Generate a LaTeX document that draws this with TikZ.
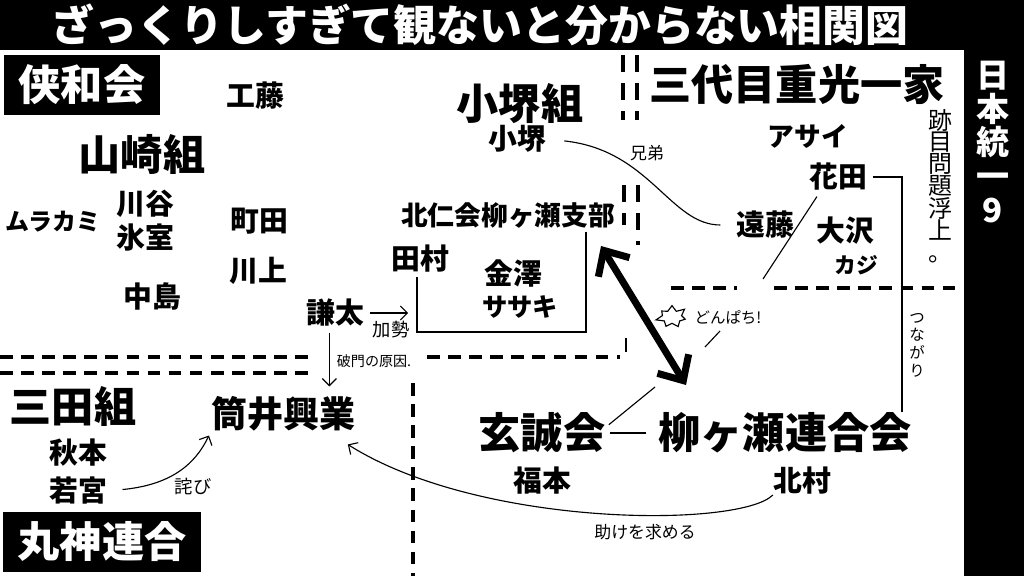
\documentclass[tikz,border=0pt]{standalone}
\usepackage{fontspec}
\setmainfont{Noto Sans CJK JP}
\usepackage{tikz}
\usetikzlibrary{arrows.meta}
\usetikzlibrary{shapes.symbols}
\tikzstyle{arrow}= [line width=0.8pt, ->, >={Straight Barb[length=5pt,width=10pt]}]
\tikzstyle{bsarrow}= [line width=5pt, <->, >={Straight Barb[length=14pt,width=26pt]}]
\tikzstyle{tie}= [line width=0.8pt]
\tikzstyle{border}= [line width=2.8pt, dash pattern=on 9pt off 6pt]
\tikzstyle{border2}= [line width=2.8pt, dash pattern=on 12pt off 8pt]

\begin{document}
\begin{tikzpicture}[
    x=0.025cm, y=-0.025cm,
    every node/.style={inner sep=0pt},
    gang/.style={font=\bfseries\fontsize{#1}{#1}\selectfont},
    gang/.default=30,
    who/.style={font=\bfseries\fontsize{#1}{#1}\selectfont},
    who/.default=20.5,
    memo/.style={font=\fontsize{#1}{#1}\selectfont},
    memo/.default=11,
    namebox/.style={fill=black, text=white, minimum height=42.7pt, font=\bfseries\fontsize{30}{30}\selectfont}
  ]
  \useasboundingbox (0,0) rectangle (1024,576);
  \fill[black] (0,0) rectangle (1024,576);
  \fill[white] (0,50) rectangle (964,576);

  % title and number
  \node[text=white, font=\bfseries\fontsize{30.5}{30.5}\selectfont] (title) at (480,25) {ざっくりしすぎて観ないと分からない相関図};
  \node[text=white, align=center, font=\bfseries\fontsize{23.5}{24}\selectfont] (vol) at (993,142) {日\\本\\統\\一\\9};

  % borders
  \draw[border] (0,357) -- (312,357);
  \draw[border] (0,373) -- (312,373);
  \draw[border] (427,357) -- (620,357);
  \draw[line width=2pt] (626,338) -- (626,352);
  \draw[border] (413,383) -- (413,576);
  \draw[border2] (623,55) -- (623,120);
  \draw[border2] (637,55) -- (637,120);
  \draw[border2] (624,185) -- (624,225);
  \draw[border2] (638,185) -- (638,245);
  \draw[border] (671,288) -- (737,288);
  \draw[border] (774,288) -- (964,288);

  % kyowakai
  \node[namebox, minimum width=111pt] (kyowa) at (82,85) {侠和会};
  \node[who] (kudo) at (255,96) {工藤};
  \node[gang] (yamazaki) at (142,154) {山崎組};
  \node[who=17] (murakami) at (53,222) {ムラカミ};
  \node[who] (kawatani) at (145,204) {川谷};
  \node[who] (himuro) at (145,238) {氷室};
  \node[who] (machida) at (259,221) {町田};
  \node[who] (kawakami) at (258,271) {川上};
  \node[who] (nakajima) at (152,297) {中島};
  \node[who] (kenta) at (335,313) {謙太};

  % kozakai / hokujinkai
  \node[gang] (kozakaigumi) at (520,104) {小堺組};
  \node[who] (kozakai) at (517,139) {小堺};
  \node[who=19] (hokujin) at (508,215) {北仁会柳ヶ瀬支部};
  \node[who] (tamura) at (420,259) {田村};
  \node[who] (kanazawa) at (513,274) {金澤};
  \node[who=18] (sasaki) at (520,307) {ササキ};

  % shigemitsu
  \node[gang] (shigemitsu) at (797,84) {三代目重光一家};
  \node[who=19] (asai) at (808,136) {アサイ};
  \node[who] (hanada) at (838,177) {花田};
  \node[who] (endo) at (765,225) {遠藤};
  \node[who] (osawa) at (845,231) {大沢};
  \node[who=15.5] (kaji) at (856,265) {カジ};
  \node[align=center, font=\fontsize{17}{15.5}\selectfont] (atome) at (940,186) {跡\\目\\問\\題\\浮\\上\\。};

  % marugami
  \node[gang] (mita) at (73,406) {三田組};
  \node[who] (akimoto) at (78,453) {秋本};
  \node[who] (wakamiya) at (78,491) {若宮};
  \node[namebox, minimum width=141.5pt] (marugami) at (102,542) {丸神連合};
  \node[gang=25.6] (tsutsui) at (283,414) {筒井興業};
  \node[gang] (gensei) at (542,433) {玄誠会};
  \node[gang] (rengo) at (785,433) {柳ヶ瀬連合会};
  \node[who] (fukumoto) at (542,481) {福本};
  \node[who] (kitamura) at (802,481) {北村};

  % notes
  \node[memo=12] (kyodai) at (647,153) {兄弟};
  \node[memo=13] (kasei) at (391,330) {加勢};
  \node[memo=10] (hamon) at (374,361) {破門の原因.};
  \node[starburst, draw, fill=white, line width=0.8pt, starburst points=7, starburst point height=5pt, minimum width=24pt, minimum height=19pt] (boom) at (672,317) {};
  \node[memo=11] (donpachi) at (728,317) {どんぱち!};
  \node[align=center, font=\fontsize{11}{12.5}\selectfont] (tsunagari) at (917,345) {つ\\な\\が\\り};
  \node[memo=13] (wabi) at (193,486) {詫び};
  \node[memo=12] (tasuke) at (645,532) {助けを求める};

  % links
  \coordinate (bl) at (417,332);
  \coordinate (br) at (586,332);
  \coordinate (a1) at (601,246);
  \coordinate (a2) at (686,385);
  \coordinate (hit) at (655,387);
  \coordinate (hd) at (763,279);
  \draw[tie, shorten <=3pt, shorten >=3pt] (tamura.south -| bl) -- (bl) -- (br) -- (hokujin.south -| br);
  \draw[arrow, shorten <=4pt] (kenta.east) -- ++(44,0);
  \draw[arrow, shorten <=4pt, shorten >=7pt] ([xshift=-4pt]kenta.south) -- ([xshift=-4pt]kenta.south |- tsutsui.north);
  \draw[tie, shorten <=13pt, shorten >=11pt] (kozakai.east) .. controls (650,150) and (670,225) .. (endo.west);
  \draw[tie] ([xshift=-15pt,yshift=-4pt]hanada.south) -- (hd);
  \draw[tie, shorten <=4pt] (hanada.east) -| ([xshift=-7pt]rengo.north east);
  \draw[bsarrow] (a1) -- (a2);
  \draw[tie, shorten <=3pt] ([yshift=4pt]gensei.east) -- (hit);
  \draw[tie, shorten <=3pt, shorten >=9pt] (gensei.east) -- (rengo.west);
  \draw[tie] (705,347) -- (720,331);
  \draw[arrow, shorten >=2pt] (kitamura.south west) .. controls (740,528) and (480,528) .. ([xshift=-7pt,yshift=-8pt]tsutsui.south east);
  \draw[arrow, shorten <=11pt, shorten >=3pt] (wakamiya.east) .. controls (170,485) and (195,465) .. (tsutsui.south west);
\end{tikzpicture}
\end{document}
